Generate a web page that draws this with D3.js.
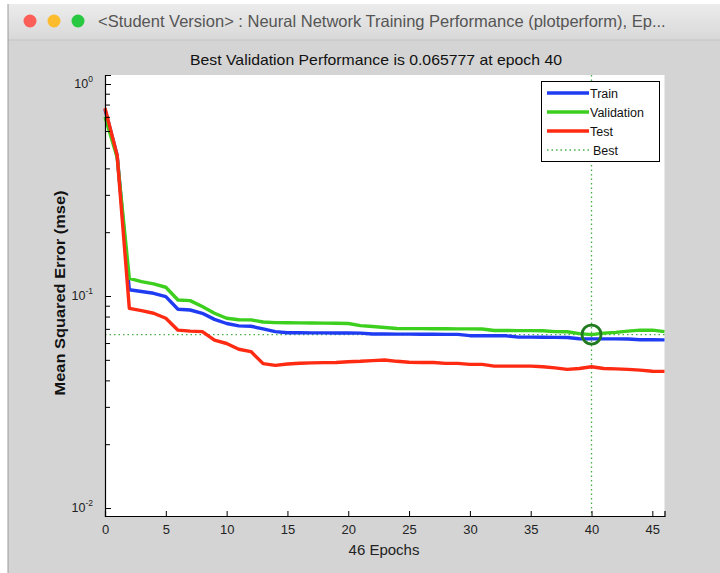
<!DOCTYPE html>
<html><head><meta charset="utf-8">
<script src="https://cdn.jsdelivr.net/npm/d3@7"></script>
<style>html,body{margin:0;padding:0;background:#fff;}svg{display:block;}</style>
</head><body>
<svg id="c" width="720" height="573"></svg>
<script>
const epochs = d3.range(0, 47);
const trainPerf = [0.76,0.46,0.107,0.105,0.103,0.0994,0.0866,0.0859,0.0829,0.0776,0.0742,0.0723,0.0720,0.0700,0.0679,0.0671,0.0671,0.0670,0.0670,0.0669,0.0669,0.0668,0.0662,0.0662,0.0661,0.0661,0.0660,0.0660,0.0659,0.0659,0.0650,0.0650,0.0649,0.0649,0.0640,0.0640,0.0639,0.0638,0.0637,0.0629,0.0628,0.0628,0.0628,0.0627,0.0622,0.0622,0.0621];
const valPerf = [0.70,0.45,0.121,0.117,0.114,0.110,0.0958,0.0951,0.0892,0.0829,0.0785,0.0773,0.0772,0.0754,0.0749,0.0748,0.0747,0.0746,0.0745,0.0744,0.0742,0.0725,0.0718,0.0710,0.0703,0.0702,0.0702,0.0701,0.0701,0.0700,0.0700,0.0699,0.0688,0.0688,0.0687,0.0687,0.0686,0.0679,0.0678,0.0665,0.065777,0.0668,0.0674,0.0683,0.0690,0.0690,0.0679];
const testPerf = [0.77,0.46,0.0875,0.0853,0.0829,0.0785,0.0690,0.0683,0.0679,0.0620,0.0597,0.0561,0.0547,0.0480,0.0471,0.0478,0.0482,0.0484,0.0485,0.0486,0.0490,0.0492,0.0496,0.0499,0.0492,0.0487,0.0486,0.0486,0.0481,0.0481,0.0476,0.0476,0.0467,0.0467,0.0467,0.0467,0.0464,0.0458,0.0451,0.0455,0.0464,0.0455,0.0453,0.0451,0.0447,0.0442,0.0441];
const bestEpoch = 40;
const bestPerf = 0.065777;
const xTicks = [0,5,10,15,20,25,30,35,40,45];
const yMajor = [1, 0.1, 0.01];
const yMajorExp = ["0","-1","-2"];
const seriesNames = ["Train","Validation","Test"];
const seriesColors = ["#1f3cf2","#3ccf1e","#ff2a12"];
const titleText = "Best Validation Performance is 0.065777 at epoch 40";
const windowTitle = "<Student Version> : Neural Network Training Performance (plotperform), Ep...";

const svg = d3.select("#c");
const font = "'Liberation Sans', Arial, Helvetica, sans-serif";

// window chrome
const defs = svg.append("defs");
const grad = defs.append("linearGradient").attr("id","tb").attr("x1",0).attr("y1",0).attr("x2",0).attr("y2",1);
grad.append("stop").attr("offset","0%").attr("stop-color","#ececec");
grad.append("stop").attr("offset","100%").attr("stop-color","#d8d8d8");
svg.append("rect").attr("x",8).attr("y",4).attr("width",712).attr("height",569).attr("fill","#d4d4d4");
svg.append("rect").attr("x",8).attr("y",4).attr("width",712).attr("height",36).attr("fill","url(#tb)");
svg.append("line").attr("x1",8).attr("x2",720).attr("y1",40).attr("y2",40).attr("stroke","#c4c4c4");
svg.append("line").attr("x1",8).attr("x2",8).attr("y1",4).attr("y2",573).attr("stroke","#9a9a9a");
[["#fc5f57",30],["#fdbc2e",54],["#28c840",78]].forEach(([c,x])=>{
  svg.append("circle").attr("cx",x).attr("cy",21).attr("r",6.5).attr("fill",c);
});
svg.append("text").attr("x",98).attr("y",27).attr("font-family","'Helvetica Neue', 'Liberation Sans', Arial, sans-serif")
  .attr("font-size",16.5).attr("fill","#555").text(windowTitle);

// plot
const L = 105, R = 664.5, T = 75, B = 516;
const x = d3.scaleLinear().domain([0,46]).range([L,R]);
const y = d3.scaleLog().domain([0.00917, 1.1027]).range([B,T]);

svg.append("rect").attr("x",L).attr("y",T).attr("width",R-L).attr("height",B-T).attr("fill","#fff");

// title
svg.append("text").attr("x",376).attr("y",65).attr("text-anchor","middle")
  .attr("font-family",font).attr("font-size",15).attr("textLength",372).attr("lengthAdjust","spacingAndGlyphs")
  .attr("fill","#111").text(titleText);

// best lines
const bestColor = "#45b045";
svg.append("line").attr("x1",L).attr("x2",R).attr("y1",y(bestPerf)).attr("y2",y(bestPerf))
  .attr("stroke",bestColor).attr("stroke-width",1.3).attr("stroke-dasharray","1.5,3");
svg.append("line").attr("x1",x(bestEpoch)).attr("x2",x(bestEpoch)).attr("y1",T).attr("y2",B)
  .attr("stroke",bestColor).attr("stroke-width",1.3).attr("stroke-dasharray","1.5,3");

// series
const series = [trainPerf, valPerf, testPerf];
const line = d3.line().x((d,i)=>x(epochs[i])).y(d=>y(d));
[0,1,2].forEach(k=>{
  svg.append("path").datum(series[k]).attr("d",line).attr("fill","none")
    .attr("stroke",seriesColors[k]).attr("stroke-width",3.4).attr("stroke-linejoin","round");
});

// best circle
svg.append("circle").attr("cx",x(bestEpoch)).attr("cy",y(bestPerf)).attr("r",9.5)
  .attr("fill","none").attr("stroke","#217a21").attr("stroke-width",2.8);

// axes
const xAxis = d3.axisBottom(x).tickValues(xTicks).tickSize(-5).tickPadding(9).tickFormat(d3.format("d"));
const gx = svg.append("g").attr("transform",`translate(0,${B})`).call(xAxis);
gx.select(".domain").attr("stroke","#000").attr("stroke-width",1.2);
gx.selectAll(".tick line").attr("stroke","#000");
gx.selectAll(".tick text").attr("font-family",font).attr("font-size",13).attr("fill","#222");

const minorVals = [];
[0.01,0.1].forEach(b=>{ for(let m=2;m<=9;m++) minorVals.push(b*m); });
const yAxis = d3.axisLeft(y).tickValues(yMajor.concat(minorVals)).tickSize(-6).tickFormat("");
const gy = svg.append("g").attr("transform",`translate(${L},0)`).call(yAxis);
gy.select(".domain").attr("stroke","#000").attr("stroke-width",1.2);
gy.selectAll(".tick line").attr("stroke","#000").attr("x2", d=> yMajor.includes(d)?6:5);

yMajor.forEach((v,i)=>{
  const t = svg.append("text").attr("x",L-12).attr("y",y(v)+4).attr("text-anchor","end")
    .attr("font-family",font).attr("font-size",12.5).attr("fill","#222");
  t.append("tspan").text("10");
  t.append("tspan").attr("dy",-6).attr("font-size",8.5).text(yMajorExp[i]);
});

// axis labels
svg.append("text").attr("x",384).attr("y",555).attr("text-anchor","middle")
  .attr("font-family",font).attr("font-size",15).attr("fill","#222").text("46 Epochs");
svg.append("text").attr("transform",`translate(65,293) rotate(-90)`).attr("text-anchor","middle")
  .attr("font-family",font).attr("font-size",14.5).attr("font-weight","bold").attr("fill","#111")
  .attr("textLength",205).attr("lengthAdjust","spacingAndGlyphs")
  .text("Mean Squared Error  (mse)");

// legend
const lg = svg.append("g");
lg.append("rect").attr("x",541.5).attr("y",81.5).attr("width",118).attr("height",80)
  .attr("fill","#fff").attr("stroke","#000").attr("stroke-width",1);
const legendY = [93,112,131,150];
seriesNames.forEach((n,i)=>{
  lg.append("line").attr("x1",547).attr("x2",589).attr("y1",legendY[i]).attr("y2",legendY[i])
    .attr("stroke",seriesColors[i]).attr("stroke-width",3.4);
  lg.append("text").attr("x",590).attr("y",legendY[i]+4.5).attr("font-family",font)
    .attr("font-size",12.5).attr("fill","#111").text(n);
});
lg.append("line").attr("x1",547).attr("x2",589).attr("y1",legendY[3]).attr("y2",legendY[3])
  .attr("stroke",bestColor).attr("stroke-width",1.3).attr("stroke-dasharray","1.5,3");
lg.append("text").attr("x",593).attr("y",legendY[3]+4.5).attr("font-family",font)
  .attr("font-size",12.5).attr("fill","#111").text("Best");
</script>
</body></html>
